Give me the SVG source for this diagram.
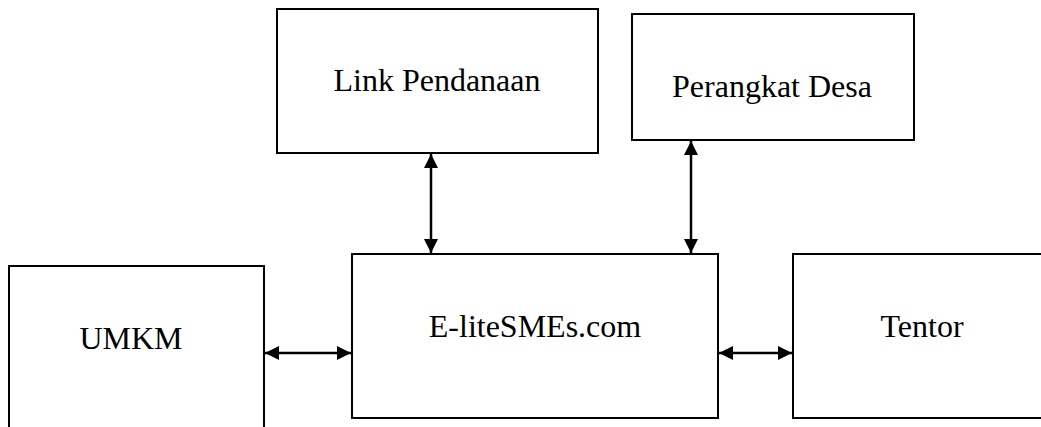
<svg xmlns="http://www.w3.org/2000/svg" width="1041" height="427" viewBox="0 0 1041 427">
<style>
.box{fill:#fff;stroke:#000;stroke-width:2}
.lbl{font-family:"Liberation Serif","Times New Roman",serif;font-size:32px;fill:#000;text-anchor:middle}
.con{stroke:#000;stroke-width:2.5;fill:none;marker-start:url(#ah);marker-end:url(#ah)}
</style>
<defs>
<marker id="ah" viewBox="0 0 14 14" refX="14" refY="7" markerWidth="14" markerHeight="14" markerUnits="userSpaceOnUse" orient="auto-start-reverse">
<path d="M0,0 L14,7 L0,14 Z" fill="#000"/>
</marker>
</defs>
<rect width="1041" height="427" fill="#fff"/>
<g id="link-pendanaan"><rect class="box" x="277" y="9" width="321" height="144"/><text class="lbl" x="437" y="91">Link Pendanaan</text></g>
<g id="perangkat-desa"><rect class="box" x="632" y="14" width="282" height="126"/><text class="lbl" x="772" y="97">Perangkat Desa</text></g>
<g id="umkm"><rect class="box" x="9" y="266" width="255" height="180"/><text class="lbl" x="131" y="349">UMKM</text></g>
<g id="elite"><rect class="box" x="352" y="254" width="366" height="164"/><text class="lbl" x="535" y="337">E-liteSMEs.com</text></g>
<g id="tentor"><rect class="box" x="793" y="254" width="260" height="164"/><text class="lbl" x="922" y="337">Tentor</text></g>
<g id="connectors">
<line class="con" x1="431" y1="154" x2="431" y2="253"/>
<line class="con" x1="691" y1="141" x2="691" y2="253"/>
<line class="con" x1="265" y1="353" x2="351" y2="353"/>
<line class="con" x1="719" y1="353" x2="792" y2="353"/>
</g>
</svg>
